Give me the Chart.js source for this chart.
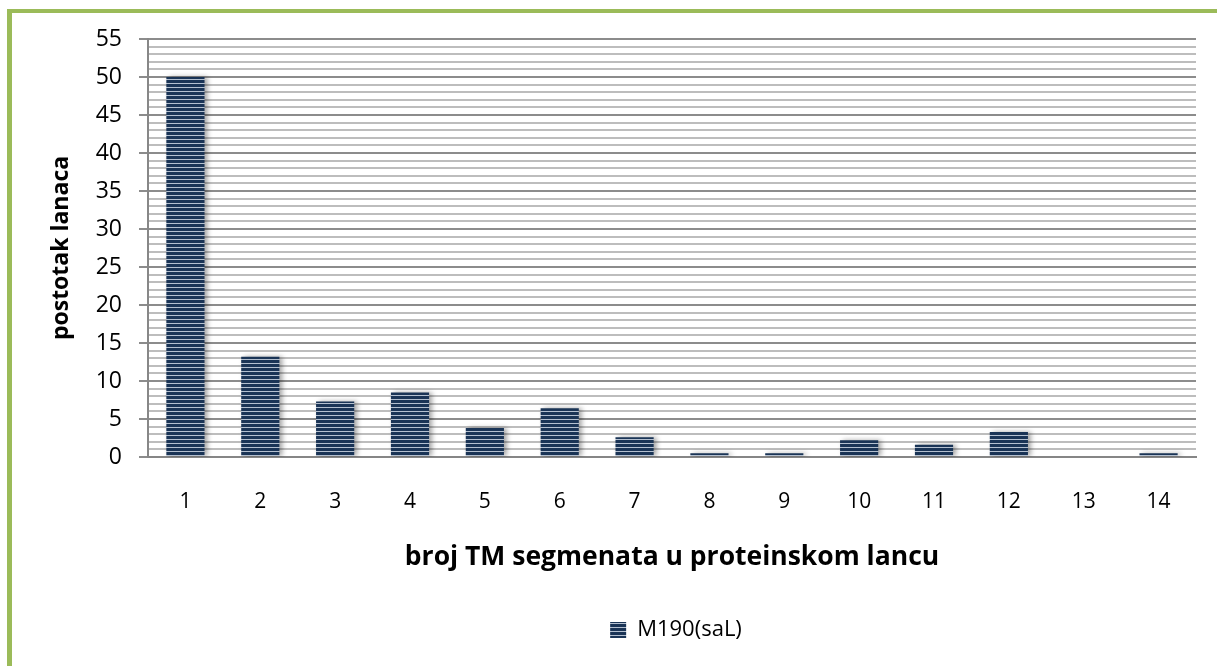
<!DOCTYPE html>
<html><head><meta charset="utf-8">
<script src="https://cdn.jsdelivr.net/npm/chart.js@4.4.0/dist/chart.umd.min.js"></script>
<style>
html,body{margin:0;padding:0;background:#fff;overflow:hidden;width:1217px;height:666px}
#frame{position:absolute;left:7px;top:9px;width:1400px;height:900px;border-style:solid;border-color:#9BBB59;border-width:4px 0 0 5px;box-sizing:border-box}
#wrap{position:absolute;left:0;top:0;width:1217px;height:666px}
</style></head><body>
<div id="frame"></div>
<div id="wrap"><canvas id="c" width="1217" height="666"></canvas></div>
<script>
const categories = ['1','2','3','4','5','6','7','8','9','10','11','12','13','14'];
const seriesName = 'M190(saL)';
const values = [50, 13.2, 7.3, 8.5, 3.8, 6.4, 2.6, 0.5, 0.5, 2.2, 1.6, 3.3, 0, 0.5];
const yTickLabels = [0, 5, 10, 15, 20, 25, 30, 35, 40, 45, 50, 55];
const xTitle = 'broj TM segmenata u proteinskom lancu';
const yTitle = 'postotak lanaca';

const FONT = '"Open Sans", Lato, sans-serif';

function makePattern(){
  const c = document.createElement('canvas'); c.width = 4; c.height = 4;
  const x = c.getContext('2d');
  x.fillStyle = '#1a3456'; x.fillRect(0,0,4,4);
  x.fillStyle = '#b4c0d0'; x.fillRect(0,3,4,1);
  return x.createPattern(c, 'repeat');
}
const pattern = makePattern();

const shadowPlugin = {
  id: 'shadow',
  beforeDatasetsDraw(chart){ const c = chart.ctx; c.save(); c.shadowColor = 'rgba(0,0,0,0.35)'; c.shadowBlur = 5; c.shadowOffsetX = 3; },
  afterDatasetsDraw(chart){ chart.ctx.restore(); }
};

const legendShift = {
  id: 'legendShift',
  afterLayout(chart){ if (chart.legend) { chart.legend.left += 54; chart.legend.right += 54; } }
};

const isMajor = v => yTickLabels.includes(v);

new Chart(document.getElementById('c'), {
  type: 'bar',
  data: {
    labels: categories,
    datasets: [{
      label: seriesName, data: values, backgroundColor: pattern,
      borderWidth: 0, categoryPercentage: 1, barPercentage: 0.51
    }]
  },
  plugins: [shadowPlugin, legendShift],
  options: {
    responsive: false, animation: false,
    layout: { padding: { left: 48, right: 21, top: 39, bottom: 15 } },
    plugins: {
      legend: { position: 'bottom', labels: { font: { family: FONT, size: 22 }, color: '#000', boxWidth: 16, boxHeight: 16, padding: 10 } },
      tooltip: { enabled: false }
    },
    scales: {
      x: {
        grid: { display: false, drawTicks: false },
        border: { color: '#868686', width: 2 },
        ticks: { font: { family: FONT, size: 21 }, color: '#000', padding: 32 },
        title: { display: true, text: xTitle, font: { family: FONT, size: 26.5, weight: 'bold' }, color: '#000', padding: { top: 0, bottom: 36 } },
        afterFit: s => { s.height = 152; }
      },
      y: {
        min: 0, max: 55,
        ticks: { stepSize: 1, autoSkip: false, font: { family: FONT, size: 23 }, color: '#000', padding: 17,
          callback: v => isMajor(v) ? String(v) : '' },
        grid: { lineWidth: 2, tickLength: 9,
          color: c => isMajor(c.tick.value) ? '#8c8c8c' : '#bdbdbd',
          tickColor: c => isMajor(c.tick.value) ? '#8c8c8c' : 'rgba(0,0,0,0)' },
        border: { color: '#878787', width: 2 },
        title: { display: true, text: yTitle, font: { family: FONT, size: 23, weight: 'bold' }, color: '#000', padding: { top: 0, bottom: 0 } },
        afterFit: s => { s.width = 100; }
      }
    }
  }
});
</script>
</body></html>
